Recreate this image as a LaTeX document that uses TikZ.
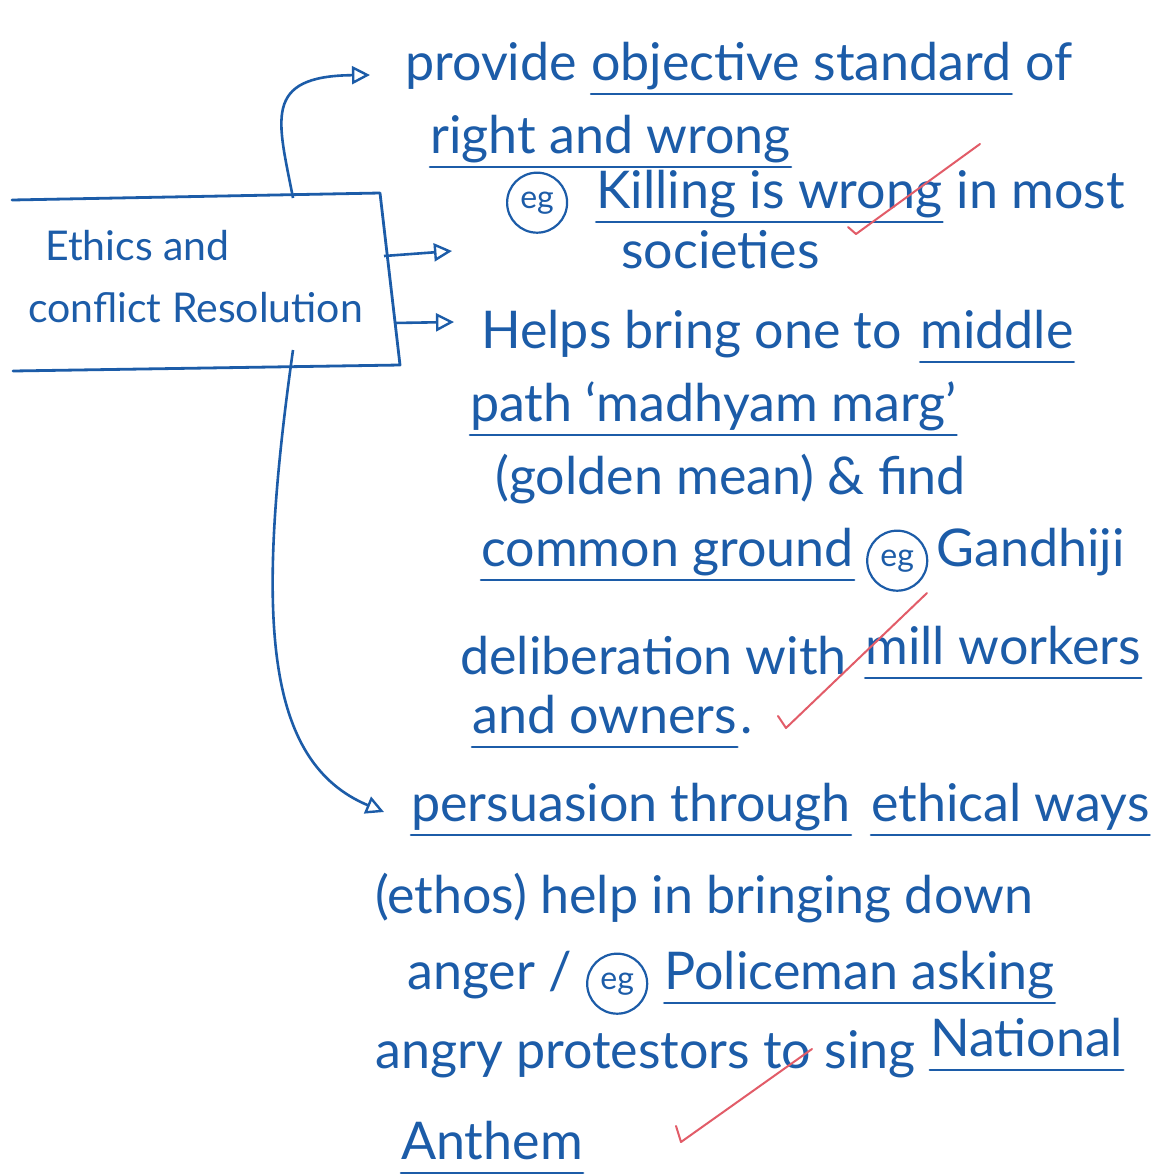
\documentclass[tikz,border=0pt]{standalone}
\usepackage{fontspec}
\setmainfont{Lato}
\usetikzlibrary{arrows.meta,positioning}

\definecolor{ink}{RGB}{28,92,168}
\definecolor{tick}{RGB}{226,92,104}

\tikzset{
  txt/.style={anchor=base west, inner sep=0pt, text=ink, font=\fontsize{52}{58}\selectfont},
  boxtxt/.style={anchor=base west, inner sep=0pt, text=ink, font=\fontsize{41}{46}\selectfont},
  egmark/.style={circle, draw=ink, text=ink, line width=2.2pt, inner sep=3pt, minimum size=60pt, font=\fontsize{32}{34}\selectfont},
  pen/.style={draw=ink, line width=2.8pt, line cap=round, line join=round},
  uline/.style={draw=ink, line width=2.6pt, line cap=round},
  arr/.style={draw=ink, line width=2.6pt, -{Triangle[open, length=18pt, width=18pt, line width=2.4pt]}},
  tickmark/.style={draw=tick, line width=2pt, line cap=round, line join=round}
}

\begin{document}
\begin{tikzpicture}[x=1pt, y=-1pt]
  \fill[white] (0,0) rectangle (1156,1176);
  \useasboundingbox (0,0) rectangle (1156,1176);

  % open box
  \coordinate (b1) at (12,200);
  \coordinate (b2) at (380,193);
  \coordinate (b3) at (400,365);
  \coordinate (b4) at (13,371);
  \draw[pen] (b1) -- (b2) -- (b3) -- (b4);
  \node[boxtxt] (ecr1) at (45,260) {Ethics and};
  \node[boxtxt] (ecr2) at (28,322) {conflict Resolution};

  % first point
  \node[txt] (p1a) at (405,80) {provide};
  \node[txt, base right=14pt of p1a] (p1b) {objective standard};
  \node[txt, base right=14pt of p1b] (p1c) {of};
  \node[txt] (p2) at (430,153) {right and wrong};
  \node[egmark, anchor=base west] (eg1) at (506,208) {eg};
  \node[txt, base right=28pt of eg1] (p3a) {Killing is wrong};
  \node[txt, base right=14pt of p3a] (p3b) {in most};
  \node[txt] (p4) at (621,268) {societies};

  % second point
  \node[txt] (h1a) at (481,348) {Helps bring one to};
  \node[txt, base right=18pt of h1a] (h1b) {middle};
  \node[txt] (h2) at (470,421) {path `madhyam marg'};
  \node[txt] (h3) at (495,494) {(golden mean) \& find};
  \node[txt] (h4) at (481,566) {common ground};
  \node[egmark, base right=12pt of h4] (eg2) {eg};
  \node[txt, base right=8pt of eg2] (h5) {Gandhiji};
  \node[txt] (h6a) at (460,674) {deliberation with};
  \node[txt, base right=18pt of h6a, yshift=10pt] (h6b) {mill workers};
  \node[txt] (h7a) at (472,733) {and owners};
  \node[txt, base right=3pt of h7a] (h7b) {.};

  % third point
  \node[txt] (q1a) at (411,821) {persuasion through};
  \node[txt, base right=20pt of q1a] (q1b) {ethical ways};
  \node[txt] (q2) at (375,913) {(ethos) help in bringing down};
  \node[txt] (q3) at (407,989) {anger /};
  \node[egmark, base right=14pt of q3] (eg3) {eg};
  \node[txt, base right=16pt of eg3] (q4) {Policeman asking};
  \node[txt] (q5a) at (375,1068) {angry protestors to sing};
  \node[txt, base right=14pt of q5a, yshift=12pt] (q5b) {National};
  \node[txt] (q6) at (401,1159) {Anthem};

  % underlines
  \foreach \n in {p1b,p2,p3a,h1b,h2,h4,h6b,h7a,q1a,q1b,q4,q5b,q6}
    \draw[uline] ([yshift=-14pt]\n.base west) -- ([yshift=-14pt]\n.base east);

  % arrows out of the box
  \coordinate (s1) at (293,198);
  \coordinate (t1) at (370,75);
  \draw[arr] (s1) .. controls (278,120) and (262,76) .. (t1);
  \coordinate (s2) at (384,256);
  \coordinate (t2) at (452,251);
  \draw[arr] (s2) -- (t2);
  \coordinate (s3) at (394,323);
  \coordinate (t3) at (454,322);
  \draw[arr] (s3) -- (t3);
  \coordinate (s4) at (293,350);
  \coordinate (t4) at (384,812);
  \draw[arr] (s4) .. controls (255,620) and (265,762) .. (t4);

  % red ticks
  \draw[tickmark] (848,227) -- (856,234) -- (980,144);
  \draw[tickmark] (778,716) -- (786,728) -- (927,593);
  \draw[tickmark] (676,1126) -- (681,1142) -- (812,1049);
\end{tikzpicture}
\end{document}
